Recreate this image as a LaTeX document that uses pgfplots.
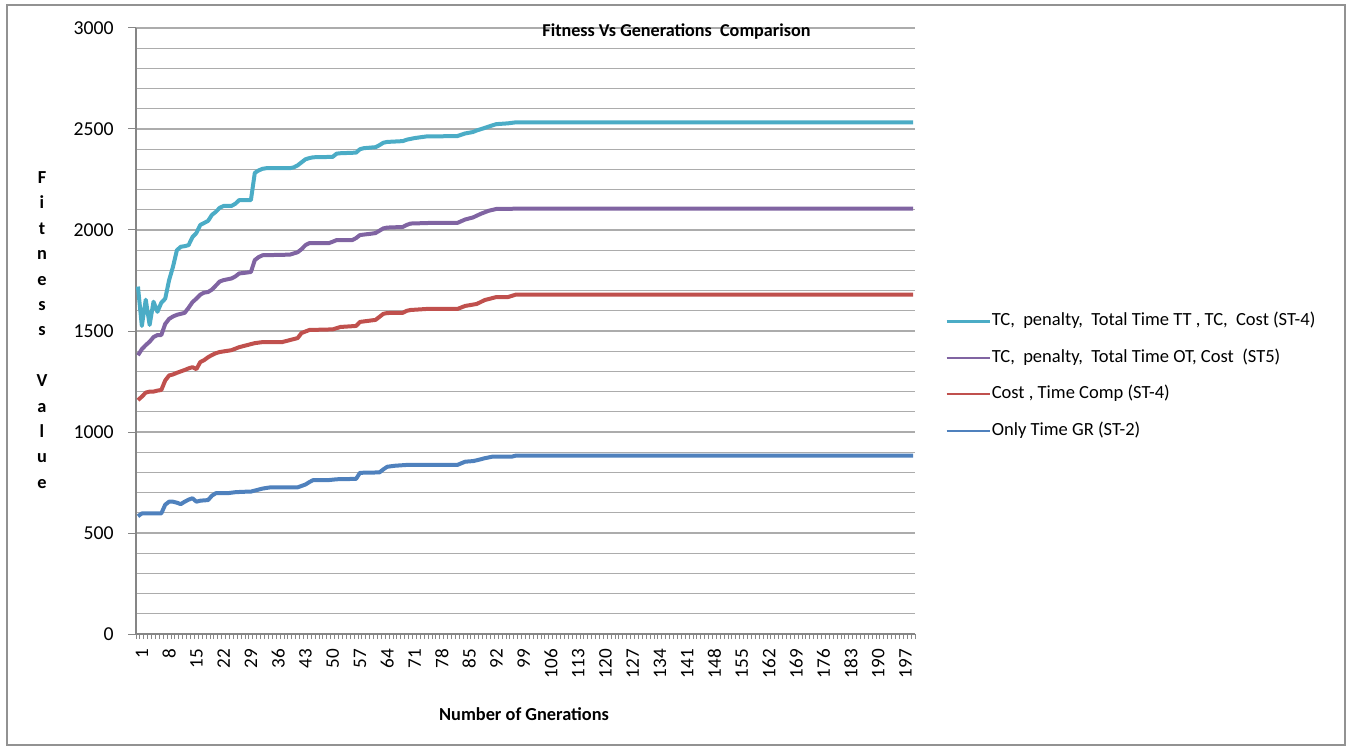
\documentclass[border=0pt]{standalone}
\usepackage{pgfplots}
\pgfplotsset{compat=1.18}
\usepackage{fontspec}
\setmainfont{Carlito}

\definecolor{sCyan}{RGB}{75,172,198}
\definecolor{sPurple}{RGB}{128,100,162}
\definecolor{sRed}{RGB}{192,80,77}
\definecolor{sBlue}{RGB}{79,129,189}
\definecolor{gridgray}{RGB}{172,172,172}
\definecolor{axisgray}{RGB}{134,134,134}

\begin{document}
\begin{tikzpicture}[x=1bp,y=1bp]
\path[use as bounding box] (0,0) rectangle (676,374.5);
\draw[axisgray!90, line width=0.6bp] (3.5,2) rectangle (672.5,372);
\begin{axis}[
  at={(68bp,57.5bp)}, anchor=south west,
  scale only axis, width=389.5bp, height=303bp,
  xmin=0.5, xmax=200.5, ymin=0, ymax=3000,
  axis x line*=bottom, axis y line*=left,
  axis line style={axisgray, line width=0.6bp, -},
  ytick={0,500,...,3000},
  minor ytick={100,200,...,2900},
  ymajorgrids=true, yminorgrids=true,
  major grid style={gridgray, line width=0.6bp},
  minor grid style={gridgray, line width=0.6bp},
  xtick={1,8,...,197},
  minor xtick={0.5,1.5,...,200.5},
  tick align=outside,
  major tick length=4bp, minor tick length=2.5bp,
  major x tick style={draw=none},
  minor y tick style={draw=none},
  tick style={axisgray, line width=0.5bp},
  /pgf/number format/assume math mode=true,
  /pgf/number format/1000 sep={},
  yticklabel style={font=\fontsize{9.9}{11}\selectfont, xshift=-3.7bp},
  xticklabel style={font=\fontsize{9.6}{11}\selectfont, rotate=90, anchor=east, yshift=-2bp},
  legend style={at={(1.0385,0.4257)}, anchor=west, draw=none, fill=none,
    font=\fontsize{9.3}{11}\selectfont, inner sep=0pt, row sep=8.2bp,
    nodes={inner sep=0.6bp, text height=6.6bp, text depth=2.2bp}},
  legend cell align=left,
  legend image code/.code={\draw[#1, line width=1.1bp] (0bp,0bp) -- (21.5bp,0bp);},
  every axis plot/.append style={line width=2bp, line join=round},
]
% TC, penalty, Total Time TT, TC, Cost (ST-4)
\addplot[sCyan] table {
x y
1 1720
2 1525
3 1655
4 1530
5 1645
6 1595
7 1640
8 1660
9 1752
10 1818
11 1900
12 1917
13 1920
14 1925
15 1965
16 1985
17 2025
18 2035
19 2045
20 2075
21 2090
22 2110
23 2119
25 2119
26 2130
27 2148
30 2148
31 2283
32 2295
33 2303
34 2306
40 2306
41 2310
42 2320
43 2335
44 2350
45 2356
46 2360
51 2362
52 2378
53 2380
57 2383
58 2400
59 2405
62 2410
63 2420
64 2432
65 2436
69 2440
70 2447
72 2455
75 2463
83 2465
85 2478
87 2485
88 2493
90 2505
92 2518
93 2524
96 2528
98 2533
200 2533
};
\addlegendentry{TC,\ \ penalty,\ \ Total Time TT , TC,\ \ Cost (ST-4)}
% TC, penalty, Total Time OT, Cost (ST5)
\addplot[sPurple] table {
x y
1 1380
2 1410
3 1430
4 1447
5 1470
6 1480
7 1480
8 1535
9 1560
10 1572
11 1580
12 1585
13 1590
14 1615
15 1643
16 1660
17 1680
18 1690
19 1693
20 1705
21 1725
22 1745
23 1752
25 1760
26 1770
27 1785
28 1787
30 1792
31 1851
32 1866
33 1875
40 1878
42 1890
43 1905
44 1925
45 1935
50 1935
51 1942
52 1950
56 1950
57 1960
58 1975
61 1982
62 1985
64 2008
65 2012
69 2015
70 2025
71 2032
76 2035
83 2035
85 2052
87 2062
89 2080
91 2095
93 2104
96 2104
98 2106
200 2106
};
\addlegendentry{TC,\ \ penalty,\ \ Total Time OT, Cost\ \ (ST5)}
% Cost, Time Comp (ST-4)
\addplot[sRed] table {
x y
1 1158
2 1175
3 1195
4 1200
5 1200
6 1205
7 1208
8 1255
9 1280
10 1285
11 1293
12 1300
13 1307
14 1315
15 1321
16 1311
17 1346
18 1356
19 1370
20 1381
21 1390
22 1396
24 1402
25 1405
27 1420
29 1430
31 1440
33 1445
38 1445
40 1455
42 1465
43 1490
45 1505
51 1508
53 1520
57 1525
58 1545
62 1555
64 1585
65 1589
69 1590
70 1600
71 1604
75 1609
83 1609
85 1624
88 1634
90 1653
93 1668
96 1668
98 1680
200 1680
};
\addlegendentry{Cost , Time Comp (ST-4)}
% Only Time GR (ST-2)
\addplot[sBlue] table {
x y
1 583
2 597
7 597
8 640
9 655
10 655
11 650
12 643
13 655
14 665
15 672
16 655
17 660
19 663
20 685
21 697
24 697
26 702
28 704
30 705
31 710
33 720
35 726
42 726
44 740
45 752
46 762
50 762
52 766
57 768
58 798
63 800
64 815
65 828
67 833
70 837
83 837
85 853
87 856
88 860
90 870
92 878
97 878
98 883
200 883
};
\addlegendentry{Only Time GR (ST-2)}
\end{axis}
\node[font=\bfseries\fontsize{9.1}{11}\selectfont] at (338.25,358.5) {Fitness Vs Generations\ \ Comparison};
\node[font=\bfseries\fontsize{9.2}{11}\selectfont] at (262,17.5) {Number of Gnerations};
\node[font=\bfseries\fontsize{9.2}{12.75}\selectfont, align=center] at (21,209.5)
  {F\\i\\t\\n\\e\\s\\s\\[12.75bp]V\\a\\l\\u\\e};
\end{tikzpicture}
\end{document}
